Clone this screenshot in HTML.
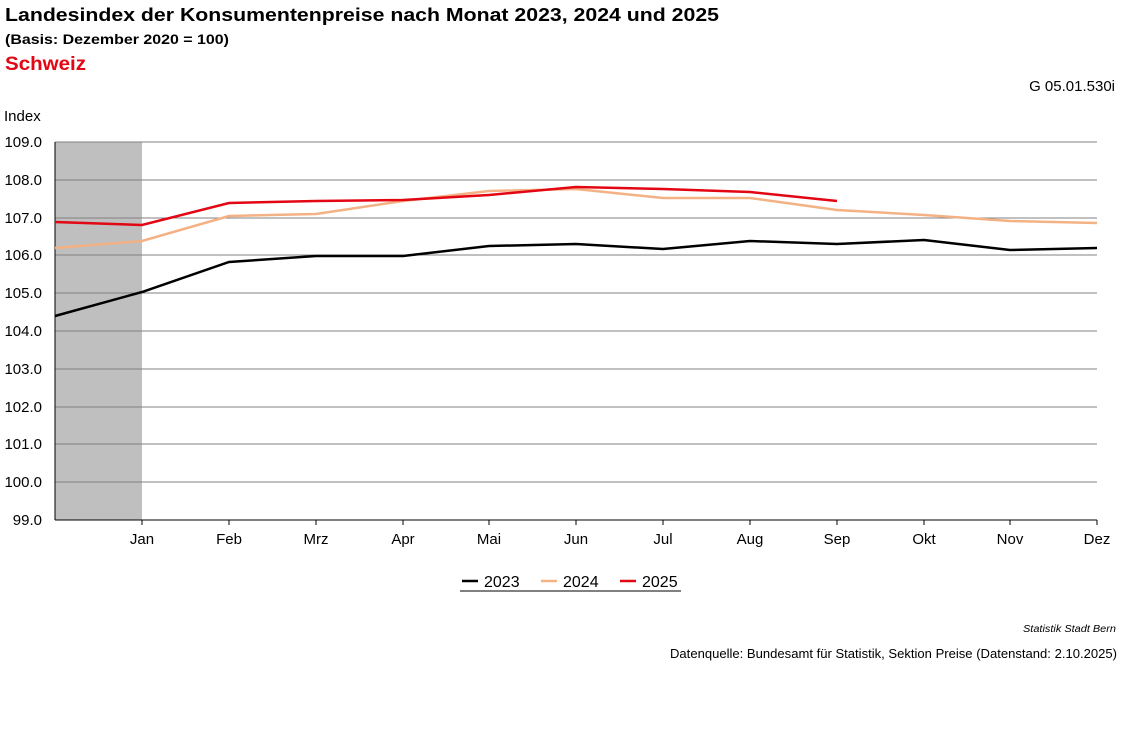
<!DOCTYPE html>
<html><head><meta charset="utf-8"><style>
body{margin:0;background:#fff;width:1127px;height:734px;overflow:hidden;font-family:"Liberation Sans",Arial,sans-serif}
</style></head><body>
<svg width="1127" height="734" xmlns="http://www.w3.org/2000/svg" font-family="Liberation Sans, Arial, sans-serif">
<text x="5" y="21" font-size="18" font-weight="bold" textLength="714" lengthAdjust="spacingAndGlyphs">Landesindex der Konsumentenpreise nach Monat 2023, 2024 und 2025</text>
<text x="5" y="44" font-size="14" font-weight="bold" textLength="224" lengthAdjust="spacingAndGlyphs">(Basis: Dezember 2020 = 100)</text>
<text x="5" y="70" font-size="19" font-weight="bold" fill="#e30613" textLength="81" lengthAdjust="spacingAndGlyphs">Schweiz</text>
<text x="1115" y="91" font-size="15" text-anchor="end">G 05.01.530i</text>
<text x="4" y="121" font-size="15">Index</text>
<rect x="55" y="142" width="87" height="378" fill="#bfbfbf"/>
<g stroke="#808080" stroke-width="1">
<line x1="55" y1="142" x2="1097" y2="142"/><line x1="55" y1="180" x2="1097" y2="180"/>
<line x1="55" y1="218" x2="1097" y2="218"/><line x1="55" y1="255" x2="1097" y2="255"/>
<line x1="55" y1="293" x2="1097" y2="293"/><line x1="55" y1="331" x2="1097" y2="331"/>
<line x1="55" y1="369" x2="1097" y2="369"/><line x1="55" y1="407" x2="1097" y2="407"/>
<line x1="55" y1="444" x2="1097" y2="444"/><line x1="55" y1="482" x2="1097" y2="482"/>
</g>
<g stroke="#000" stroke-width="1">
<line x1="55" y1="142" x2="55" y2="520"/><line x1="55" y1="520" x2="1097" y2="520"/>
<line x1="142" y1="520" x2="142" y2="525"/><line x1="229" y1="520" x2="229" y2="525"/><line x1="316" y1="520" x2="316" y2="525"/><line x1="403" y1="520" x2="403" y2="525"/><line x1="489" y1="520" x2="489" y2="525"/><line x1="576" y1="520" x2="576" y2="525"/><line x1="663" y1="520" x2="663" y2="525"/><line x1="750" y1="520" x2="750" y2="525"/><line x1="837" y1="520" x2="837" y2="525"/><line x1="924" y1="520" x2="924" y2="525"/><line x1="1010" y1="520" x2="1010" y2="525"/><line x1="1097" y1="520" x2="1097" y2="525"/>
</g>
<g font-size="15" text-anchor="end">
<text x="42" y="147">109.0</text><text x="42" y="185">108.0</text><text x="42" y="223">107.0</text><text x="42" y="260">106.0</text><text x="42" y="298">105.0</text><text x="42" y="336">104.0</text><text x="42" y="374">103.0</text><text x="42" y="412">102.0</text><text x="42" y="449">101.0</text><text x="42" y="487">100.0</text><text x="42" y="525">99.0</text>
</g>
<g font-size="15" text-anchor="middle">
<text x="142" y="544">Jan</text><text x="229" y="544">Feb</text><text x="316" y="544">Mrz</text><text x="403" y="544">Apr</text><text x="489" y="544">Mai</text><text x="576" y="544">Jun</text><text x="663" y="544">Jul</text><text x="750" y="544">Aug</text><text x="837" y="544">Sep</text><text x="924" y="544">Okt</text><text x="1010" y="544">Nov</text><text x="1097" y="544">Dez</text>
</g>
<polyline fill="none" stroke="#000" stroke-width="2.5" points="55,316 142,292 229,262 316,256 403,256 489,246 576,244 663,249 750,241 837,244 924,240 1010,250 1097,248"/>
<polyline fill="none" stroke="#f4b183" stroke-width="2.5" points="55,248 142,241 229,216 316,214 403,201 489,191 576,189 663,198 750,198 837,210 924,215 1010,221 1097,223"/>
<polyline fill="none" stroke="#e30613" stroke-width="2.5" points="55,222 142,225 229,203 316,201 403,200 489,195 576,187 663,189 750,192 837,201"/>
<line x1="460" y1="591" x2="681" y2="591" stroke="#000" stroke-width="1"/>
<line x1="462" y1="581" x2="478" y2="581" stroke="#000" stroke-width="2.5"/><text x="484" y="587" font-size="16">2023</text>
<line x1="541" y1="581" x2="557" y2="581" stroke="#f4b183" stroke-width="2.5"/><text x="563" y="587" font-size="16">2024</text>
<line x1="620" y1="581" x2="636" y2="581" stroke="#e30613" stroke-width="2.5"/><text x="642" y="587" font-size="16">2025</text>
<text x="1116" y="632" font-size="10" font-style="italic" text-anchor="end" textLength="93" lengthAdjust="spacingAndGlyphs">Statistik Stadt Bern</text>
<text x="1117" y="658" font-size="13" text-anchor="end" textLength="447" lengthAdjust="spacingAndGlyphs">Datenquelle: Bundesamt für Statistik, Sektion Preise (Datenstand: 2.10.2025)</text>
</svg>
</body></html>
